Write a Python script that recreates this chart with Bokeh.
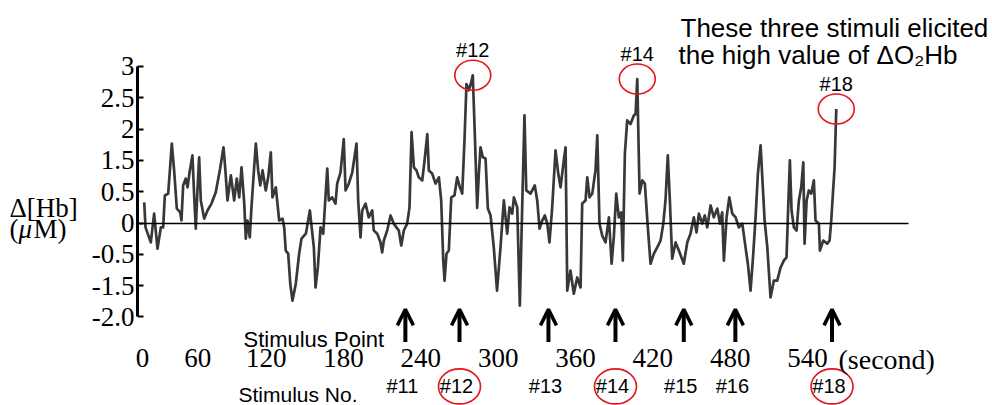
import numpy as np
from bokeh.plotting import figure
from bokeh.models import (LinearAxis, FixedTicker, Range1d, Label, Arrow, OpenHead,
                          ColumnDataSource)
from bokeh.core.properties import value
from bokeh.embed import file_html
from bokeh.resources import INLINE

# ---------------- data ----------------
TIME_S = [
    25.4, 26.4, 30.5, 33.1, 35.7, 38.3, 40.1, 41.4, 44.0, 46.8,
    48.6, 50.7, 53.3, 54.3, 55.6, 57.6, 59.0, 60.8, 62.8, 64.2,
    65.4, 66.7, 68.0, 69.3, 71.9, 74.5, 77.6, 80.9, 84.3, 86.9,
    88.2, 90.0, 92.6, 95.2, 97.2, 99.1, 100.9, 103.0, 104.2, 105.5,
    107.3, 108.6, 110.7, 112.0, 113.8, 115.4, 117.2, 119.7, 121.6, 123.6,
    124.9, 127.5, 130.1, 132.7, 134.0, 135.2, 137.1, 138.7, 140.4, 143.0,
    145.6, 147.4, 150.8, 152.6, 153.9, 157.0, 158.3, 160.1, 162.2, 164.3,
    166.0, 167.4, 168.6, 171.2, 173.8, 175.1, 177.7, 180.2, 181.6, 184.1,
    186.8, 190.1, 191.4, 193.2, 194.5, 197.1, 199.6, 202.3, 203.5, 206.2,
    208.7, 210.0, 211.3, 213.9, 216.5, 219.0, 221.1, 222.9, 224.8, 226.8,
    229.4, 231.2, 232.8, 234.6, 236.6, 238.4, 241.1, 242.9, 245.0, 246.2,
    248.8, 251.4, 254.0, 255.8, 257.4, 258.4, 259.9, 261.7, 263.6, 266.1,
    268.2, 270.3, 272.1, 273.9, 275.4, 277.2, 279.1, 280.3, 281.7, 283.7,
    285.0, 286.3, 288.1, 290.2, 292.0, 294.1, 296.6, 299.1, 301.8, 304.4,
    307.0, 308.8, 310.9, 312.2, 314.8, 316.8, 318.7, 320.4, 321.8, 325.1,
    328.4, 330.3, 332.1, 334.2, 336.2, 338.1, 339.8, 341.9, 344.5, 346.6,
    348.4, 350.9, 352.3, 353.6, 356.1, 358.7, 361.3, 363.9, 365.2, 367.8,
    369.1, 370.9, 373.0, 375.5, 376.9, 378.6, 380.7, 383.3, 385.9, 388.0,
    389.7, 391.6, 393.6, 395.5, 396.7, 398.3, 400.1, 402.7, 405.3, 406.6,
    407.9, 409.7, 411.8, 413.8, 416.1, 418.2, 420.8, 423.4, 426.0, 428.1,
    429.8, 431.6, 433.2, 435.0, 437.6, 440.2, 444.0, 446.7, 449.2, 451.8,
    453.9, 455.7, 458.3, 460.3, 462.2, 464.8, 467.3, 470.0, 472.0, 473.8,
    475.1, 477.2, 479.3, 481.6, 484.2, 486.7, 489.4, 491.9, 493.7, 495.8,
    497.9, 499.7, 501.5, 503.6, 504.9, 506.7, 508.8, 511.3, 513.9, 516.5,
    519.1, 521.6, 523.7, 525.1, 526.3, 527.6, 529.4, 531.5, 533.3, 535.1,
    536.7, 537.7, 539.3, 541.0, 542.9, 544.9, 546.2, 548.8, 549.6, 552.2,
    555.3, 557.1, 558.4, 559.7, 561.0, 562.3,
]
DELTA_HB = [
    0.33, -0.07, -0.31, 0.15, -0.41, -0.07, -0.07, 0.44, 0.47, 1.27,
    0.84, 0.23, 0.17, 0.04, 0.60, 0.71, 0.57, 0.84, 1.08, 0.41,
    -0.09, 0.52, 1.05, 0.36, 0.07, 0.20, 0.31, 0.49, 0.87, 1.21,
    0.89, 0.36, 0.76, 0.36, 0.71, 0.41, 0.89, 0.31, -0.25, 0.04,
    -0.23, 0.25, 0.89, 1.27, 0.84, 0.60, 0.84, 0.52, 0.73, 1.13,
    0.41, 0.57, 0.04, 0.07, -0.07, -0.44, -0.49, -0.97, -1.24, -0.97,
    -0.49, -0.25, -0.17, 0.04, 0.20, -0.39, -1.03, -0.71, -0.07, -0.17,
    0.41, 0.87, 0.36, 0.41, 0.31, 0.63, 0.81, 1.34, 0.52, 0.63,
    0.81, 1.27, 0.36, -0.23, 0.20, 0.31, 0.09, 0.20, -0.12, -0.17,
    -0.31, -0.47, -0.28, -0.12, 0.12, -0.01, -0.07, -0.12, -0.36, -0.12,
    -0.01, 0.25, 1.45, 0.89, 0.84, 0.73, 0.68, 1.00, 1.42, 0.84,
    0.79, 0.63, 0.73, 0.36, -0.60, -0.92, -0.49, -0.44, 0.41, 0.44,
    0.73, 0.57, 0.47, 1.34, 2.22, 2.12, 2.25, 2.36, 1.53, 0.24,
    0.79, 1.21, 1.05, 1.03, 0.23, 0.12, -0.39, -1.08, -0.39, 0.36,
    -0.17, 0.25, 0.15, 0.41, 0.25, -1.32, 0.31, 1.72, 0.52, 0.47,
    0.60, 0.36, -0.09, 0.04, 0.12, -0.01, -0.31, 0.25, 1.16, 0.79,
    0.57, 1.00, 1.21, -1.08, -0.76, -1.13, -0.87, -1.03, 0.31, 0.36,
    0.73, 0.41, 0.47, 0.84, 1.40, -0.01, -0.20, -0.31, 0.09, -0.65,
    -0.23, 0.47, 0.09, 0.17, -0.60, 1.11, 1.64, 1.58, 1.72, 1.74,
    2.30, 0.47, 0.68, 0.63, -0.07, -0.65, -0.49, -0.39, -0.28, -0.01,
    0.36, 1.08, 0.36, -0.57, -0.31, -0.44, -0.65, -0.31, -0.17, 0.09,
    -0.15, 0.15, -0.01, 0.12, -0.07, 0.28, 0.09, 0.23, -0.01, 0.17,
    -0.60, 0.09, 0.41, 0.15, 0.09, -0.07, -0.01, -0.39, -0.65, -1.08,
    -0.49, 0.09, 0.79, 1.24, 0.73, 0.04, -0.39, -1.19, -0.92, -0.92,
    -0.71, -0.60, -0.55, 0.31, 1.00, 0.20, -0.07, -0.12, 0.36, 0.57,
    0.97, -0.33, 0.36, 0.52, 0.47, 0.68, 0.04, -0.01, -0.44, -0.28,
    -0.33, -0.28, 0.04, 0.47, 0.89, 1.82,
]

# y ticks are evenly spaced in the picture but carry these labels
Y_TICKS = [-1.5, -1.0, -0.5, 0.0, 0.5, 1.0, 1.5, 2.0, 2.5]
Y_TICK_LABELS = ["-2.0", "-1.5", "-0.5", "0", "0.5", "1.5", "2", "2.5", "3"]

X_TICK_POS = [24, 67, 120, 180, 240, 300, 360, 420, 480, 540]
X_TICK_LABELS = ["0", "60", "120", "180", "240", "300", "360", "420", "480", "540"]

STIM_T = [228, 270, 339, 391, 444, 484, 559]
STIM_NO = ["#11", "#12", "#13", "#14", "#15", "#16", "#18"]
HIGHLIGHT = ["#12", "#14", "#18"]

# ---------------- styling constants ----------------
RED = "#e3151a"
SERIF = "Liberation Serif"
SANS = "Liberation Sans"
AXIS_X = 20.2          # where the vertical axis stands (seconds)
ZERO_END = 618.4       # end of the zero line (seconds)
ARROW_TAIL, ARROW_TIP = -1.90, -1.38
ROW_Y = -2.61          # row of stimulus numbers
TICK_ROW = -1.89       # location of the time-label row

p = figure(width=992, height=405,
           x_range=Range1d(-86.1, 683.5), y_range=Range1d(-2.915, 3.554),
           x_axis_location=None, y_axis_location=None,
           toolbar_location=None, output_backend="svg",
           min_border=0, outline_line_color=None,
           background_fill_color="white", border_fill_color="white")
p.grid.visible = False

# data trace
p.line(TIME_S, DELTA_HB, line_color="#383838", line_width=2.7, line_join="round")

# vertical axis
yax = LinearAxis(fixed_location=AXIS_X, bounds=(Y_TICKS[0], Y_TICKS[-1]),
                 ticker=FixedTicker(ticks=Y_TICKS, minor_ticks=[]),
                 major_label_overrides=dict(zip(Y_TICKS, Y_TICK_LABELS)),
                 axis_line_width=3, axis_line_color="black",
                 major_tick_in=6, major_tick_out=0, major_tick_line_width=2,
                 minor_tick_line_color=None,
                 major_label_text_font=SERIF, major_label_text_font_size="27px",
                 major_label_text_color="black", major_label_standoff=3)
p.add_layout(yax, "left")

# zero line
zax = LinearAxis(fixed_location=0, bounds=(AXIS_X, ZERO_END),
                 ticker=FixedTicker(ticks=[], minor_ticks=[]),
                 axis_line_width=1.3, axis_line_color="black",
                 major_tick_line_color=None, minor_tick_line_color=None,
                 major_label_text_font_size="0px")
p.add_layout(zax, "below")

# time labels row
xax = LinearAxis(fixed_location=TICK_ROW,
                 ticker=FixedTicker(ticks=X_TICK_POS, minor_ticks=[]),
                 major_label_overrides=dict(zip(X_TICK_POS, X_TICK_LABELS)),
                 axis_line_color=None, major_tick_line_color=None,
                 minor_tick_line_color=None,
                 major_label_text_font=SERIF, major_label_text_font_size="27px",
                 major_label_text_color="black", major_label_standoff=2)
p.add_layout(xax, "below")

# stimulus arrows
stim_src = ColumnDataSource(dict(t=STIM_T, no=STIM_NO))
p.add_layout(Arrow(x_start="t", x_end="t", y_start=ARROW_TAIL, y_end=ARROW_TIP,
                   source=stim_src, line_width=4, line_color="black",
                   end=OpenHead(size=16, line_width=3.5, line_color="black")))

# stimulus numbers row
p.text(x="t", y=ROW_Y, text="no", source=stim_src, x_offset=-3,
       text_font=value(SANS), text_font_size="20px", text_color="black",
       text_align="center", text_baseline="middle")

# highlighted stimuli: circles at the peaks and at their numbers
t_arr = np.array(TIME_S)
v_arr = np.array(DELTA_HB)
peak_t, peak_v, hl_t = [], [], []
for no in HIGHLIGHT:
    s = STIM_T[STIM_NO.index(no)]
    hl_t.append(s)
    mask = (t_arr >= s) & (t_arr <= s + 25)
    i = int(np.argmax(np.where(mask, v_arr, -np.inf)))
    peak_t.append(t_arr[i])
    peak_v.append(v_arr[i])

p.ellipse(x=peak_t, y=peak_v, width=36, height=30,
          width_units="screen", height_units="screen",
          fill_color=None, line_color=RED, line_width=1.6)
p.text(x=peak_t, y=peak_v, text=HIGHLIGHT, y_offset=-25,
       text_font=value(SANS), text_font_size="20px", text_color="black",
       text_align="center", text_baseline="middle")
p.ellipse(x=hl_t, y=ROW_Y, width=42, height=35,
          width_units="screen", height_units="screen",
          fill_color=None, line_color=RED, line_width=1.6)

# texts
def add_label(text, x, y, font, size, style="normal"):
    p.add_layout(Label(x=x, y=y, x_units="screen", y_units="screen", text=text,
                       text_font=font, text_font_size=size, text_color="black",
                       text_font_style=style,
                       text_baseline="alphabetic", text_align="left"))

add_label("These three stimuli elicited", 680, 378, SANS, "26px")
add_label("the high value of \u0394O\u2082Hb", 678, 351, SANS, "26px")
add_label("\u0394[Hb]", 9, 198, SERIF, "27px")
add_label("(", 9, 177, SERIF, "27px")
add_label("\u03bc", 18, 177, SERIF, "27px", "italic")
add_label("M)", 33, 177, SERIF, "27px")
add_label("Stimulus Point", 243, 66, SANS, "22px")
add_label("Stimulus No.", 238, 11, SANS, "21px")
add_label("(second)", 838, 46, SERIF, "28px")

open("out.html", "w").write(file_html(p, INLINE))
